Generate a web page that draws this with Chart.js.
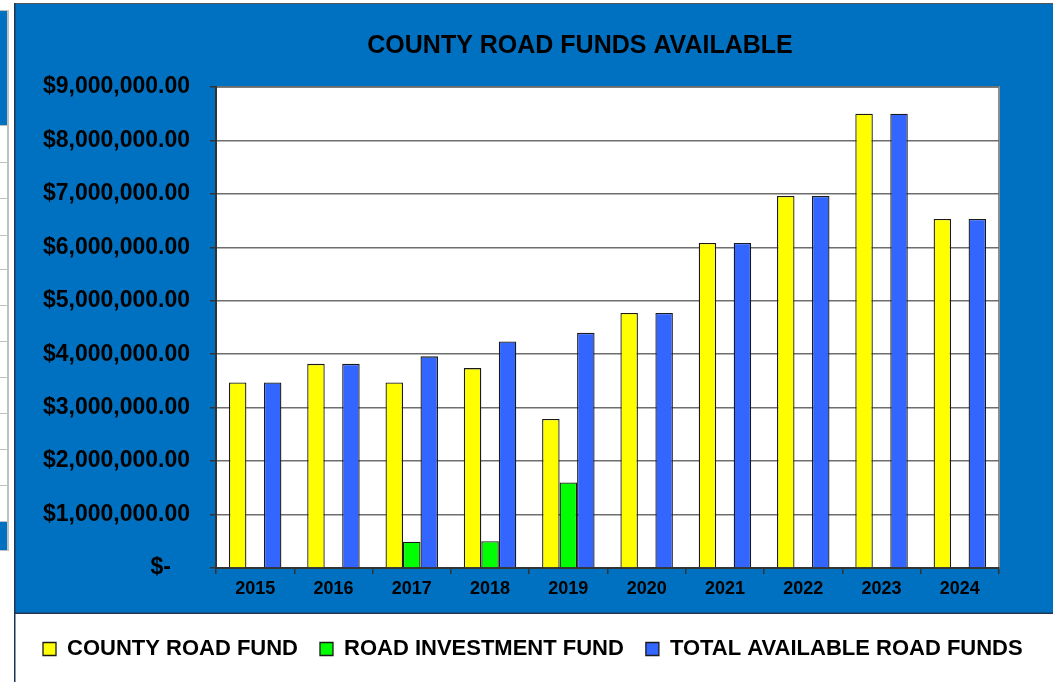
<!DOCTYPE html>
<html>
<head>
<meta charset="utf-8">
<script src="https://cdn.jsdelivr.net/npm/chart.js@4.4.1/dist/chart.umd.min.js"></script>
<style>
  html, body { margin: 0; padding: 0; background: #ffffff; overflow: hidden; width: 1053px; height: 682px; }
  #wrap { position: absolute; left: 14px; top: 3px; width: 1039px; height: 679px; }
  .cell { position: absolute; }
</style>
</head>
<body>
<div id="strip"></div>
<div id="wrap"><canvas id="c" width="1039" height="679"></canvas></div>
<script>
const categories = ['2015', '2016', '2017', '2018', '2019', '2020', '2021', '2022', '2023', '2024'];
const countyRoadFund = [3470000, 3820000, 3470000, 3740000, 2790000, 4770000, 6080000, 6960000, 8500000, 6530000];
const roadInvestmentFund = [null, null, 490000, 500000, 1600000, null, null, null, null, null];
const totalAvailable = [3470000, 3820000, 3960000, 4240000, 4400000, 4770000, 6080000, 6960000, 8500000, 6530000];
const seriesNames = ['COUNTY ROAD FUND', 'ROAD INVESTMENT FUND', 'TOTAL AVAILABLE ROAD FUNDS'];
const chartTitle = 'COUNTY ROAD FUNDS AVAILABLE';
const yMax = 9000000;
const yStep = 1000000;

// decorative spreadsheet strip on the far left
(function () {
  const strip = document.getElementById('strip');
  function add(l, t, w, h, c) {
    const d = document.createElement('div');
    d.className = 'cell';
    d.style.cssText = 'left:' + l + 'px;top:' + t + 'px;width:' + w + 'px;height:' + h + 'px;background:' + c + ';';
    strip.appendChild(d);
  }
  add(0, 11, 7, 114, '#0070C0');
  add(0, 522, 7, 28, '#0070C0');
  [10, 125, 162, 198, 235, 269, 305, 341, 377, 413, 449, 485, 521, 550].forEach(y => add(0, y, 8, 1, '#c0c0c0'));
  add(7, 10, 2, 541, '#c0c0c0');
})();

const FONT = "'Liberation Sans', Arial, sans-serif";

const bgPlugin = {
  id: 'bg',
  afterLayout(chart) {
    const tb = chart.titleBlock;
    if (tb) { tb.left += 43; tb.right += 43; }
  },
  beforeDraw(chart) {
    const ctx = chart.ctx;
    const W = chart.width, H = chart.height;
    ctx.save();
    ctx.fillStyle = '#ffffff';
    ctx.fillRect(0, 0, W, H);
    ctx.fillStyle = '#0070C0';
    ctx.fillRect(0, 0, W, 610);
    ctx.fillStyle = '#555555';
    ctx.fillRect(0, 0, W, 1);
    ctx.fillStyle = '#1f3550';
    ctx.fillRect(0, 0, 1.5, H);
    ctx.fillRect(0, 609.5, W, 1.5);
    const a = chart.chartArea;
    ctx.fillStyle = '#ffffff';
    ctx.fillRect(a.left, a.top, a.right - a.left, a.bottom - a.top);
    ctx.strokeStyle = '#8c8c8c';
    ctx.lineWidth = 2;
    ctx.strokeRect(a.left, a.top, a.right - a.left, a.bottom - a.top);
    ctx.restore();
  }
};

function money(v) {
  if (v === 0) return '$-   ';
  return '$' + v.toLocaleString('en-US', { minimumFractionDigits: 2, maximumFractionDigits: 2 });
}

new Chart(document.getElementById('c'), {
  type: 'bar',
  data: {
    labels: categories,
    datasets: [
      { label: seriesNames[0], data: countyRoadFund, backgroundColor: '#FFFF00', borderColor: '#1a1a1a', borderWidth: 1.3 },
      { label: seriesNames[1], data: roadInvestmentFund, backgroundColor: '#00FF00', borderColor: '#1a1a1a', borderWidth: 1.3 },
      { label: seriesNames[2], data: totalAvailable, backgroundColor: '#3366FF', borderColor: '#1a1a1a', borderWidth: 1.3 }
    ]
  },
  options: {
    responsive: false,
    animation: false,
    devicePixelRatio: 1,
    layout: { padding: { left: 7, right: 0, top: 0, bottom: 12 } },
    datasets: { bar: { categoryPercentage: 0.67, barPercentage: 1.0 } },
    plugins: {
      title: {
        display: true,
        text: chartTitle,
        color: '#000000',
        font: { family: FONT, size: 25, weight: 'bold', lineHeight: 1.2 },
        padding: { top: 28, bottom: 26 }
      },
      legend: {
        position: 'bottom',
        align: 'start',
        labels: {
          color: '#000000',
          font: { family: FONT, size: 22, weight: 'bold' },
          boxWidth: 13,
          boxHeight: 13,
          padding: 22
        }
      },
      tooltip: { enabled: false }
    },
    scales: {
      x: {
        afterFit(scale) { scale.height = 48; },
        grid: { drawOnChartArea: false, drawTicks: true, tickLength: 6, color: '#333333', lineWidth: 1.5 },
        border: { display: true, color: '#333333', width: 2 },
        ticks: { color: '#000000', font: { family: FONT, size: 18, weight: 'bold' }, padding: 4, maxRotation: 0 }
      },
      y: {
        min: 0,
        max: yMax,
        afterFit(scale) { scale.width = 195; },
        grid: { color: '#6e6e6e', lineWidth: 1.5, drawTicks: true, tickLength: 6, tickColor: '#333333' },
        border: { display: true, color: '#333333', width: 2 },
        ticks: {
          stepSize: yStep,
          color: '#000000',
          font: { family: FONT, size: 23, weight: 'bold' },
          padding: 20,
          callback: (v) => money(v)
        }
      },
      yRightSpace: {
        position: 'right',
        display: true,
        min: 0,
        max: yMax,
        afterFit(scale) { scale.width = 54; },
        grid: { display: false, drawOnChartArea: false },
        border: { display: false },
        ticks: { display: false }
      }
    }
  },
  plugins: [bgPlugin]
});
</script>
</body>
</html>
